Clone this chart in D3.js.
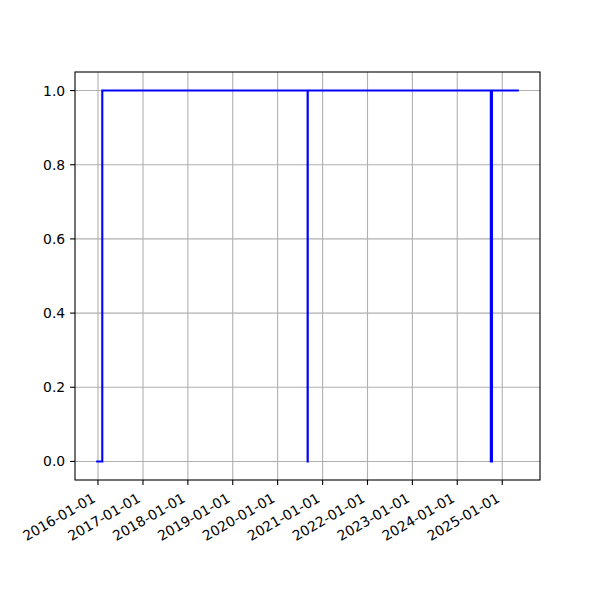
<!DOCTYPE html>
<html><head><meta charset="utf-8">
<script src="https://cdn.jsdelivr.net/npm/d3@7"></script>
<style>body{margin:0;background:#fff}text{font-family:"DejaVu Sans",sans-serif;font-size:13.9px;fill:#000}</style>
</head><body><svg id="c" width="600" height="600"></svg>
<script>
const dates = ["2015-12-17","2016-02-05","2020-09-01","2020-09-02","2024-09-30","2024-10-01","2024-10-04","2024-10-05","2024-10-08","2024-10-09","2025-05-16"];
const values = [0,1,0,1,0,1,0,1,0,1,1];
const yTicks = [0,0.2,0.4,0.6,0.8,1.0];
const xTickYears = [2016,2017,2018,2019,2020,2021,2022,2023,2024,2025];

const parse = d3.utcParse("%Y-%m-%d");
const data = dates.map((d,i)=>({t:parse(d), v:values[i]}));
const L=75,R=540,T=72,B=480;
const svg = d3.select("#c");
const t0 = data[0].t, t1 = data[data.length-1].t;
const span = t1 - t0;
const x = d3.scaleUtc().domain([new Date(+t0 - span*0.05), new Date(+t1 + span*0.05)]).range([L,R]);
const y = d3.scaleLinear().domain([-0.05,1.05]).range([B,T]);

const g = svg.append("g");
// grid
const xt = xTickYears.map(yy=>new Date(Date.UTC(yy,0,1)));
g.selectAll(".gx").data(xt).join("line").attr("x1",d=>x(d)).attr("x2",d=>x(d)).attr("y1",T).attr("y2",B).attr("stroke","#b0b0b0").attr("stroke-width",1.1);
g.selectAll(".gy").data(yTicks).join("line").attr("x1",L).attr("x2",R).attr("y1",d=>y(d)).attr("y2",d=>y(d)).attr("stroke","#b0b0b0").attr("stroke-width",1.1);

// line: values hold until next date (steps-post)
const line = d3.line().x(d=>x(d.t)).y(d=>y(d.v)).curve(d3.curveStepAfter);
svg.append("path").datum(data).attr("d",line).attr("fill","none").attr("stroke","#0000ff").attr("stroke-width",2.08).attr("stroke-linejoin","miter");

// spines
svg.append("rect").attr("x",L).attr("y",T).attr("width",R-L).attr("height",B-T).attr("fill","none").attr("stroke","#000").attr("stroke-width",1.1);

// x ticks
const fmt = d3.utcFormat("%Y-%m-%d");
xt.forEach(d=>{
  const px = x(d);
  svg.append("line").attr("x1",px).attr("x2",px).attr("y1",B).attr("y2",B+4.9).attr("stroke","#000").attr("stroke-width",1.1);
  const bx = px - 3.3*0.5, by = B+9.8+16.2*Math.cos(Math.PI/6) - 3.3*Math.cos(Math.PI/6);
  svg.append("text").attr("text-anchor","end").attr("transform",`translate(${bx},${by}) rotate(-30)`).text(fmt(d));
});
// y ticks
yTicks.forEach(v=>{
  const py = y(v);
  svg.append("line").attr("x1",L-4.9).attr("x2",L).attr("y1",py).attr("y2",py).attr("stroke","#000").attr("stroke-width",1.1);
  svg.append("text").attr("text-anchor","end").attr("x",L-9.8).attr("y",py).attr("dy","0.36em").text(v.toFixed(1));
});
</script></body></html>
